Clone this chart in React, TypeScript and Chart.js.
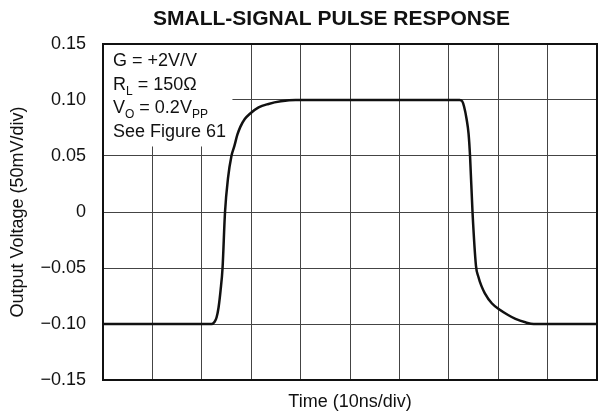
import React, { useEffect, useRef } from 'react';
import { Chart, registerables } from 'chart.js';

Chart.register(...registerables);

// ---- data ----
const titleText = 'SMALL-SIGNAL PULSE RESPONSE';
const xAxisTitle = 'Time (10ns/div)';
const yAxisTitle = 'Output Voltage (50mV/div)';

const timeNs = [
  0, 22.0, 22.6, 23.0, 23.4, 23.8, 24.2, 24.7, 25.3, 26.0,
  26.6, 27.2, 27.8, 28.7, 29.8, 31.5, 33.5, 36.0, 39.0,
  72.2, 72.7, 73.1, 73.6, 74.0, 74.3, 74.8, 75.5, 76.0, 76.6,
  77.3, 78.7, 80.4, 82.0, 83.5, 85.5, 87.2, 100,
];
const outputV = [
  -0.1, -0.1, -0.098, -0.094, -0.085, -0.07, -0.05, 0.0, 0.03, 0.05,
  0.059, 0.069, 0.076, 0.083, 0.088, 0.0935, 0.0965, 0.0988, 0.1,
  0.1, 0.099, 0.094, 0.083, 0.07, 0.05, 0.0, -0.048, -0.058, -0.066,
  -0.0726, -0.0815, -0.0875, -0.092, -0.0955, -0.0985, -0.1, -0.1,
];

const xGridValues = [0, 10, 20, 30, 40, 50, 60, 70, 80, 90, 100];
const yTickValues = [-0.15, -0.1, -0.05, 0, 0.05, 0.1, 0.15];
const yTickLabels = ['\u22120.15', '\u22120.10', '\u22120.05', '0', '0.05', '0.10', '0.15'];

type Seg = { t: string; sub?: boolean };
const infoLines: Seg[][] = [
  [{ t: 'G = +2V/V' }],
  [{ t: 'R' }, { t: 'L', sub: true }, { t: ' = 150\u03A9' }],
  [{ t: 'V' }, { t: 'O', sub: true }, { t: ' = 0.2V' }, { t: 'PP', sub: true }],
  [{ t: 'See Figure 61' }],
];

const FONT = '"Liberation Sans", Arial, Helvetica, sans-serif';

const decorPlugin = {
  id: 'decor',
  beforeDatasetsDraw(chart: any) {
    const { ctx, chartArea } = chart;
    const xs = chart.scales.x;
    const ys = chart.scales.y;
    // white annotation box hiding the grid
    ctx.save();
    ctx.fillStyle = '#ffffff';
    const right = xs.getPixelForValue(26.2);
    const bottom = ys.getPixelForValue(0.0585);
    ctx.fillRect(chartArea.left, chartArea.top, right - chartArea.left, bottom - chartArea.top);
    // annotation text
    ctx.fillStyle = '#111';
    ctx.textBaseline = 'alphabetic';
    ctx.textAlign = 'left';
    const x0 = chartArea.left + 10;
    let y = chartArea.top + 22;
    for (const line of infoLines) {
      let x = x0;
      for (const s of line) {
        if (s.sub) {
          ctx.font = `12px ${FONT}`;
          ctx.fillText(s.t, x, y + 5);
        } else {
          ctx.font = `18px ${FONT}`;
          ctx.fillText(s.t, x, y);
        }
        x += ctx.measureText(s.t).width;
      }
      y += 23.6;
    }
    ctx.restore();
  },
  afterDatasetsDraw(chart: any) {
    const { ctx, chartArea } = chart;
    ctx.save();
    ctx.strokeStyle = '#111';
    ctx.lineWidth = 2;
    ctx.strokeRect(chartArea.left, chartArea.top, chartArea.right - chartArea.left, chartArea.bottom - chartArea.top);
    ctx.restore();
  },
  afterDraw(chart: any) {
    const { ctx } = chart;
    ctx.save();
    ctx.fillStyle = '#111';
    ctx.font = `bold 21px ${FONT}`;
    ctx.textAlign = 'left';
    ctx.textBaseline = 'alphabetic';
    ctx.fillText(titleText, 153, 25);
    ctx.restore();
  },
};

export default function App() {
  const ref = useRef<HTMLCanvasElement | null>(null);

  useEffect(() => {
    if (!ref.current) return;
    const chart = new Chart(ref.current, {
      type: 'line',
      data: {
        datasets: [
          {
            data: timeNs.map((t, i) => ({ x: t, y: outputV[i] })),
            borderColor: '#111',
            borderWidth: 2.5,
            pointRadius: 0,
            cubicInterpolationMode: 'monotone',
            fill: false,
          },
        ],
      },
      options: {
        responsive: false,
        animation: false,
        devicePixelRatio: 1,
        layout: { padding: { top: 44, right: 3, bottom: 0, left: 0 } },
        plugins: {
          legend: { display: false },
          title: { display: false },
          tooltip: { enabled: false },
        },
        scales: {
          x: {
            type: 'linear',
            min: 0,
            max: 100,
            afterBuildTicks: (s: any) => {
              s.ticks = xGridValues.map((v) => ({ value: v }));
            },
            afterFit: (s: any) => {
              s.height = 37;
            },
            ticks: { display: false },
            grid: { color: '#444', lineWidth: 1, drawTicks: false },
            border: { display: false },
            title: {
              display: true,
              text: xAxisTitle,
              color: '#111',
              font: { family: FONT, size: 18 },
              padding: { top: 0, bottom: 4 },
            },
          },
          y: {
            type: 'linear',
            min: -0.15,
            max: 0.15,
            afterBuildTicks: (s: any) => {
              s.ticks = yTickValues.map((v) => ({ value: v }));
            },
            afterFit: (s: any) => {
              s.width = 103;
            },
            ticks: {
              color: '#111',
              font: { family: FONT, size: 18 },
              padding: 17,
              callback: (_v: any, i: number) => yTickLabels[i],
            },
            grid: { color: '#444', lineWidth: 1, drawTicks: false },
            border: { display: false },
            title: {
              display: true,
              text: yAxisTitle,
              color: '#111',
              font: { family: FONT, size: 18 },
              padding: { top: 7, bottom: 0 },
            },
          },
        },
      },
      plugins: [decorPlugin],
    } as any);
    return () => chart.destroy();
  }, []);

  return (
    <div style={{ position: 'absolute', left: 0, top: 0, width: 600, height: 417, background: '#fff' }}>
      <canvas ref={ref} width={600} height={417} style={{ display: 'block' }} />
    </div>
  );
}
